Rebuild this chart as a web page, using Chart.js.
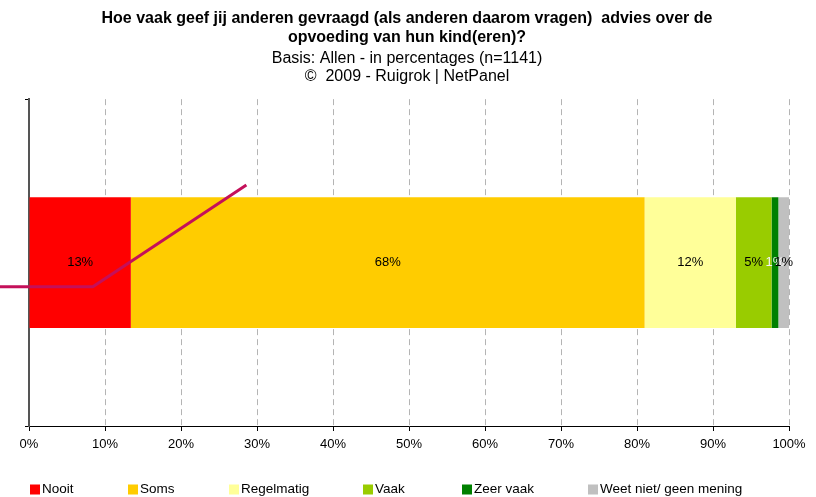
<!DOCTYPE html>
<html>
<head>
<meta charset="utf-8">
<script src="https://cdn.jsdelivr.net/npm/chart.js@4/dist/chart.umd.min.js"></script>
<style>
html, body { margin: 0; padding: 0; background: #fff; }
#wrap { width: 816px; height: 497px; }
</style>
</head>
<body>
<div id="wrap"><canvas id="chart"></canvas></div>
<script>
// Data
const categories = [''];
const seriesNames = ['Nooit', 'Soms', 'Regelmatig', 'Vaak', 'Zeer vaak', 'Weet niet/ geen mening'];
const seriesValues = [13.4, 67.6, 12.0, 4.7, 0.9, 1.4];
const seriesColors = ['#FF0000', '#FFCC00', '#FFFF99', '#99CC00', '#008000', '#C0C0C0'];
const labelColors = ['#000', '#000', '#000', '#000', '#F4F4F4', '#000'];

// The stray red line drawn over the chart (x in %, y in % of plot height)
const lineX = [-5, 8.4, 28.6];
const lineY = [42.6, 42.6, 73.7];

const titleLines = ['Hoe vaak geef jij anderen gevraagd (als anderen daarom vragen)  advies over de', 'opvoeding van hun kind(eren)?'];
const subtitleLines = ['Basis: Allen - in percentages (n=1141)', '\u00A9  2009 - Ruigrok | NetPanel'];

Chart.defaults.font.family = "'Liberation Sans', Arial, sans-serif";
Chart.defaults.font.size = 13;
Chart.defaults.color = '#000';

// Datasets: one per answer, plus the line
let datasets = seriesNames.map((name, i) => ({
    label: name,
    data: [seriesValues[i]],
    backgroundColor: seriesColors[i],
    borderWidth: 0,
    grouped: false,
    barPercentage: 0.4,
    categoryPercentage: 1
}));
datasets.push({
    type: 'scatter',
    label: 'line',
    indexAxis: 'x',
    order: -1,
    data: lineX.map((x, i) => ({x: x, y: lineY[i]})),
    xAxisID: 'x',
    yAxisID: 'y2',
    showLine: true,
    borderColor: '#C4105A',
    borderWidth: 3,
    pointRadius: 0,
    clip: false
});

// Percent labels inside the bars
const barLabels = {
    id: 'barLabels',
    afterDatasetsDraw(chart) {
        const ctx = chart.ctx;
        ctx.save();
        ctx.font = "13px 'Liberation Sans', Arial, sans-serif";
        ctx.textAlign = 'center';
        ctx.textBaseline = 'middle';
        seriesNames.forEach((name, i) => {
            const bar = chart.getDatasetMeta(i).data[0];
            ctx.fillStyle = labelColors[i];
            ctx.fillText(Math.round(seriesValues[i]) + '%', (bar.x + bar.base) / 2, bar.y);
        });
        ctx.restore();
    }
};

// Legend along the bottom
const legendX = [30, 128, 229, 363, 462, 588];
const bottomLegend = {
    id: 'bottomLegend',
    afterDraw(chart) {
        const ctx = chart.ctx;
        const y = 489.5;
        ctx.save();
        ctx.font = "13.5px 'Liberation Sans', Arial, sans-serif";
        ctx.textBaseline = 'middle';
        seriesNames.forEach((name, i) => {
            ctx.fillStyle = seriesColors[i];
            ctx.fillRect(legendX[i], y - 5, 10, 10);
            ctx.fillStyle = '#000';
            ctx.fillText(name, legendX[i] + 12, y);
        });
        ctx.restore();
    }
};

new Chart(document.getElementById('chart'), {
    type: 'bar',
    data: { labels: categories, datasets: datasets },
    options: {
        indexAxis: 'y',
        responsive: true,
        maintainAspectRatio: false,
        animation: false,
        layout: { padding: { top: 8.5, left: 25, right: 27, bottom: 38.4 } },
        plugins: {
            legend: { display: false },
            tooltip: { enabled: false },
            title: {
                display: true,
                text: titleLines,
                font: { size: 16, weight: 'bold', lineHeight: 1.22 },
                padding: { top: 0, bottom: 1.5 }
            },
            subtitle: {
                display: true,
                text: subtitleLines,
                font: { size: 16, lineHeight: 1.16 },
                padding: { top: 0, bottom: 13 }
            }
        },
        scales: {
            x: {
                type: 'linear',
                stacked: true,
                min: 0,
                max: 100,
                ticks: { stepSize: 10, padding: 6, callback: v => v + '%' },
                grid: { color: '#B4B4B4', lineWidth: 1, tickColor: '#000', tickLength: 5 },
                border: { display: true, color: '#000', width: 1, dash: [6, 4] }
            },
            y: {
                stacked: true,
                ticks: { display: false },
                grid: { display: true, drawOnChartArea: false, offset: true, tickLength: 4, color: '#000' },
                border: { display: true, color: '#555', width: 2 }
            },
            y2: {
                type: 'linear',
                display: false,
                offset: false,
                min: 0,
                max: 100
            }
        }
    },
    plugins: [barLabels, bottomLegend]
});
</script>
</body>
</html>
